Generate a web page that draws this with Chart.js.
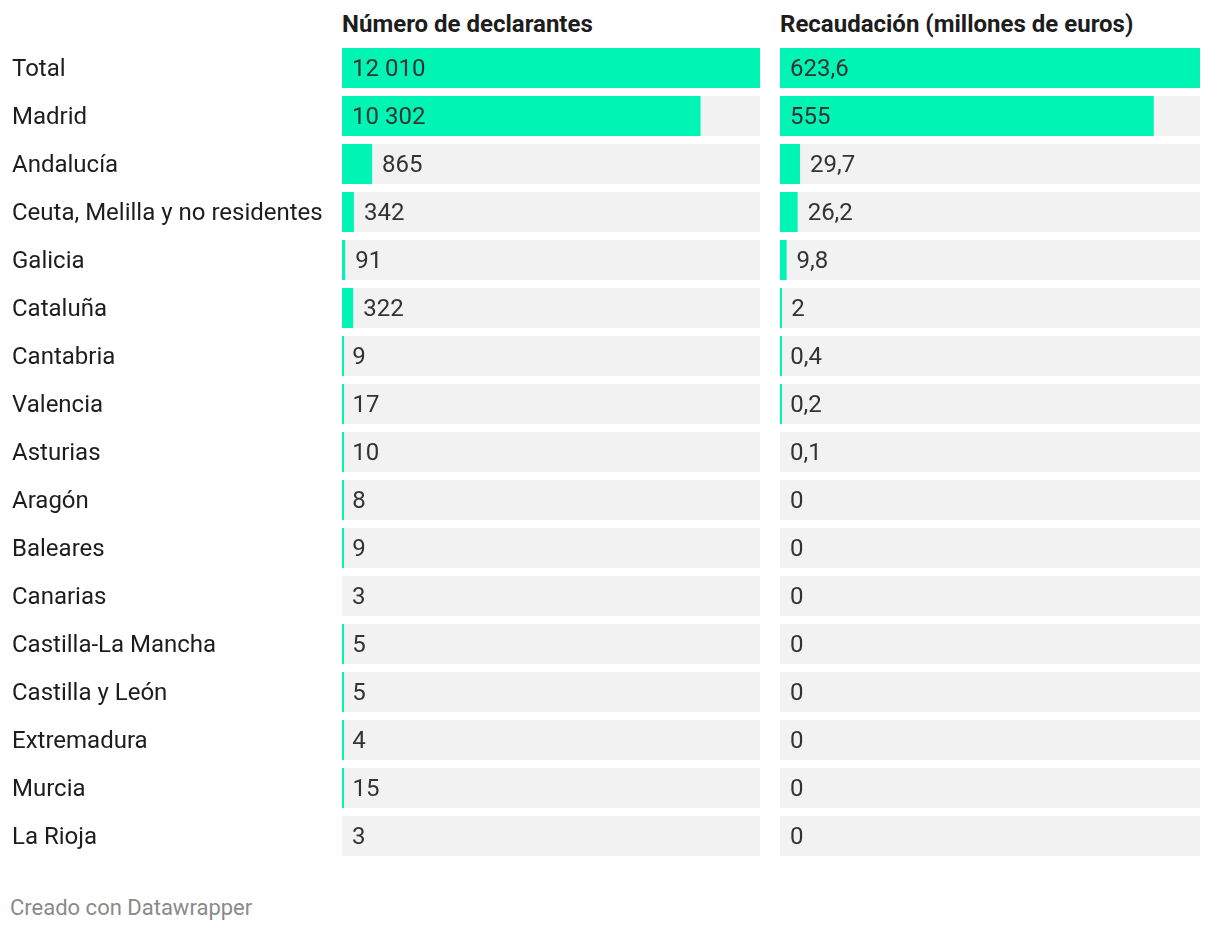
<!DOCTYPE html>
<html>
<head>
<meta charset="utf-8">
<script src="https://cdn.jsdelivr.net/npm/chart.js@4.4.1/dist/chart.umd.min.js"></script>
<style>
  html, body { margin: 0; padding: 0; background: #fff; }
  body { width: 1220px; height: 932px; position: relative; font-family: Roboto, sans-serif; overflow: hidden; }
  .head { position: absolute; top: 9px; font-size: 24px; font-weight: 700; color: #1d1d1d; line-height: 30px; white-space: nowrap; }
  .wrap { position: absolute; top: 44px; height: 816px; }
  .foot { position: absolute; left: 10px; top: 894px; font-size: 22px; color: #8a8a8a; line-height: 28px; }
</style>
</head>
<body>
<div class="head" style="left:342px">Número de declarantes</div>
<div class="head" style="left:780px">Recaudación (millones de euros)</div>
<div class="wrap" style="left:12px;width:748px"><canvas id="chartLeft"></canvas></div>
<div class="wrap" style="left:780px;width:420px"><canvas id="chartRight"></canvas></div>
<div class="foot">Creado con Datawrapper</div>

<script>
  var regions = ['Total', 'Madrid', 'Andalucía', 'Ceuta, Melilla y no residentes', 'Galicia',
    'Cataluña', 'Cantabria', 'Valencia', 'Asturias', 'Aragón', 'Baleares', 'Canarias',
    'Castilla-La Mancha', 'Castilla y León', 'Extremadura', 'Murcia', 'La Rioja'];
  var declarantes = [12010, 10302, 865, 342, 91, 322, 9, 17, 10, 8, 9, 3, 5, 5, 4, 15, 3];
  var recaudacion = [623.6, 555, 29.7, 26.2, 9.8, 2, 0.4, 0.2, 0.1, 0, 0, 0, 0, 0, 0, 0, 0];

  var BAR = '#00f4b4';
  var TRACK = '#f2f2f2';
  var FONT = 'Roboto, sans-serif';

  function fmt(v) {
    var parts = String(v).split('.');
    var ints = parts[0];
    if (ints.length > 4) ints = ints.replace(/\B(?=(\d{3})+(?!\d))/g, ' ');
    return parts.length > 1 ? ints + ',' + parts[1] : ints;
  }

  // grey row track behind each bar, full column width
  var trackPlugin = {
    id: 'track',
    beforeDatasetsDraw: function (chart) {
      var ctx = chart.ctx, area = chart.chartArea;
      var meta = chart.getDatasetMeta(0);
      ctx.save();
      ctx.fillStyle = TRACK;
      meta.data.forEach(function (el) {
        ctx.fillRect(area.left, el.y - el.height / 2, area.right - area.left, el.height);
      });
      ctx.restore();
    }
  };

  // value labels: inside the bar if it fits, otherwise right after the true bar end
  var labelPlugin = {
    id: 'vlabels',
    afterDatasetsDraw: function (chart) {
      var ctx = chart.ctx;
      var ds = chart.data.datasets[0];
      var meta = chart.getDatasetMeta(0);
      var xs = chart.scales.x;
      ctx.save();
      ctx.font = '24px ' + FONT;
      ctx.fillStyle = '#333333';
      ctx.textBaseline = 'middle';
      ctx.textAlign = 'left';
      meta.data.forEach(function (el, i) {
        var v = ds.data[i];
        var txt = fmt(v);
        var w = ctx.measureText(txt).width;
        var start = xs.getPixelForValue(0);
        var end = xs.getPixelForValue(v);
        var x = (end - start) > w + 20 ? start + 10 : end + 10;
        ctx.fillText(txt, x, el.y + 2);
      });
      ctx.restore();
    }
  };

  function makeChart(id, values, showLabels) {
    var max = Math.max.apply(null, values);
    var yAxis = {
      display: showLabels,
      grid: { display: false },
      border: { display: false },
      ticks: {
        crossAlign: 'far',
        padding: 0,
        labelOffset: 2,
        color: '#1d1d1d',
        font: { family: FONT, size: 24 }
      }
    };
    if (showLabels) {
      yAxis.afterFit = function (scale) {
        scale.width = 330;
        scale.paddingTop = 0;
        scale.paddingBottom = 0;
      };
    }
    return new Chart(document.getElementById(id), {
      type: 'bar',
      data: {
        labels: regions,
        datasets: [{
          data: values,
          backgroundColor: function (c) {
            var v = values[c.dataIndex];
            return v / max >= 0.0003 ? BAR : 'rgba(0,0,0,0)';
          },
          borderWidth: 0,
          minBarLength: 2,
          barPercentage: 1,
          categoryPercentage: 40 / 48
        }]
      },
      options: {
        indexAxis: 'y',
        responsive: true,
        maintainAspectRatio: false,
        animation: false,
        layout: { padding: 0 },
        plugins: { legend: { display: false }, tooltip: { enabled: false }, title: { display: false } },
        scales: {
          x: { display: false, min: 0, max: max },
          y: yAxis
        }
      },
      plugins: [trackPlugin, labelPlugin]
    });
  }

  makeChart('chartLeft', declarantes, true);
  makeChart('chartRight', recaudacion, false);
</script>
</body>
</html>
